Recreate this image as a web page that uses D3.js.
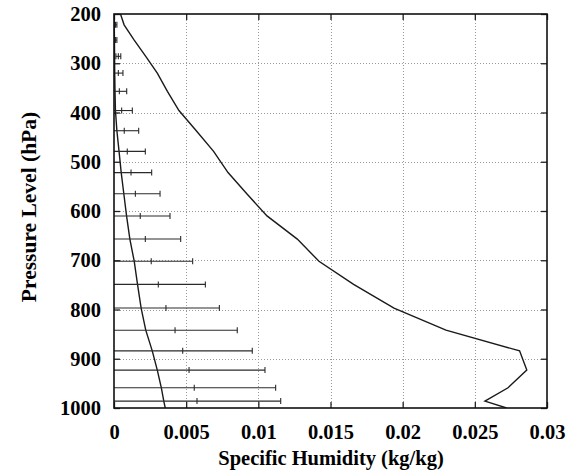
<!DOCTYPE html>
<html>
<head>
<meta charset="utf-8">
<script src="https://cdn.jsdelivr.net/npm/d3@7"></script>
<style>
  html, body { margin: 0; padding: 0; background: #fff; }
  svg { display: block; }
  text { font-family: "Liberation Serif", "Times New Roman", serif; font-weight: bold; fill: #000; }
</style>
</head>
<body>
<svg id="chart" width="576" height="474"></svg>
<script>
// Model pressure levels (hPa) where the profiles are sampled
const levels = [200, 222, 253, 286, 320, 357, 396, 437, 479, 522, 565, 610, 657, 702, 749, 797, 842, 884, 923, 959, 986, 1000];

// Specific humidity profiles (kg/kg)
const moistProfile = [0.00045, 0.0007, 0.0014, 0.0022, 0.003, 0.0037, 0.0045, 0.0057, 0.0069, 0.0079, 0.0092, 0.0106, 0.0127, 0.0142, 0.0166, 0.0194, 0.023, 0.0281, 0.0286, 0.0273, 0.0257, 0.0272];
const dryProfile = [0.00001, 0.00002, 0.00003, 0.00004, 0.00005, 0.00007, 0.0001, 0.0002, 0.00035, 0.0005, 0.00068, 0.00087, 0.0011, 0.0014, 0.00163, 0.00188, 0.0022, 0.00265, 0.003, 0.00328, 0.00345, 0.00355];

// Mean and standard deviation at each level (error bars)
const barLevels = [222, 253, 286, 320, 357, 396, 437, 479, 522, 565, 610, 657, 702, 749, 797, 842, 884, 923, 959, 986];
const barMean = [0.0001, 0.0001, 0.0003, 0.0003, 0.00037, 0.00053, 0.00071, 0.00092, 0.00118, 0.00148, 0.00182, 0.00217, 0.00258, 0.00307, 0.0036, 0.00423, 0.00476, 0.0052, 0.00556, 0.00575];
const barSd = [0.0001, 0.0001, 0.00017, 0.00032, 0.00051, 0.00074, 0.001, 0.00125, 0.00143, 0.00171, 0.00206, 0.00245, 0.00287, 0.00326, 0.0037, 0.00431, 0.00482, 0.00526, 0.00564, 0.0058];

// Axis ticks
const xTicks = [0, 0.005, 0.01, 0.015, 0.02, 0.025, 0.03];
const yTicks = [200, 300, 400, 500, 600, 700, 800, 900, 1000];

const svg = d3.select("#chart");
const plot = { left: 114, right: 547, top: 14, bottom: 408 };

const x = d3.scaleLinear().domain([0, 0.03]).range([plot.left, plot.right]);
const y = d3.scaleLinear().domain([200, 1000]).range([plot.top, plot.bottom]);

svg.append("defs").append("clipPath").attr("id", "plotClip")
  .append("rect")
  .attr("x", plot.left).attr("y", plot.top)
  .attr("width", plot.right - plot.left).attr("height", plot.bottom - plot.top);

// Dotted grid
const grid = svg.append("g").attr("stroke", "#9a9a9a").attr("stroke-width", 1).attr("stroke-dasharray", "1,2");
grid.selectAll("line.gx").data(xTicks.slice(1, -1)).join("line")
  .attr("x1", d => Math.round(x(d)) + 0.5).attr("x2", d => Math.round(x(d)) + 0.5)
  .attr("y1", plot.top).attr("y2", plot.bottom);
grid.selectAll("line.gy").data(yTicks.slice(1, -1)).join("line")
  .attr("y1", d => Math.round(y(d)) + 0.5).attr("y2", d => Math.round(y(d)) + 0.5)
  .attr("x1", plot.left).attr("x2", plot.right);

// Axes with inward ticks, mirrored on top and right
const fmtX = d => d === 0 ? "0" : String(+d.toFixed(3));
const axisBottom = d3.axisBottom(x).tickValues(xTicks).tickSize(-6).tickPadding(16).tickFormat(fmtX);
const axisTop = d3.axisTop(x).tickValues(xTicks).tickSize(-6).tickFormat("");
const axisLeft = d3.axisLeft(y).tickValues(yTicks).tickSize(-6).tickPadding(13).tickFormat(d3.format("d"));
const axisRight = d3.axisRight(y).tickValues(yTicks).tickSize(-6).tickFormat("");

function styleAxis(g) {
  g.select(".domain").remove();
  g.selectAll(".tick line").attr("stroke", "#222").attr("stroke-width", 1.3);
  g.selectAll(".tick text").attr("font-size", 20.5).attr("fill", "#000")
    .attr("font-family", "Liberation Serif, serif").attr("font-weight", "bold");
}

svg.append("g").attr("transform", `translate(0,${plot.bottom})`).call(axisBottom).call(styleAxis);
svg.append("g").attr("transform", `translate(0,${plot.top})`).call(axisTop).call(styleAxis);
svg.append("g").attr("transform", `translate(${plot.left},0)`).call(axisLeft).call(styleAxis);
svg.append("g").attr("transform", `translate(${plot.right},0)`).call(axisRight).call(styleAxis);

// Data layer
const layer = svg.append("g").attr("clip-path", "url(#plotClip)");

const line = d3.line().x(d => x(d[1])).y(d => y(d[0]));
layer.append("path")
  .datum(levels.map((p, i) => [p, moistProfile[i]]))
  .attr("d", line).attr("fill", "none").attr("stroke", "#1a1a1a").attr("stroke-width", 1.4);
layer.append("path")
  .datum(levels.map((p, i) => [p, dryProfile[i]]))
  .attr("d", line).attr("fill", "none").attr("stroke", "#1a1a1a").attr("stroke-width", 1.4);

// Error bars: mean +/- one standard deviation
const bars = layer.append("g").attr("stroke", "#2a2a2a").attr("stroke-width", 1.1)
  .selectAll("g").data(barLevels.map((p, i) => ({ p, m: barMean[i], s: barSd[i] }))).join("g");
bars.append("line")
  .attr("x1", d => x(d.m - d.s)).attr("x2", d => x(d.m + d.s))
  .attr("y1", d => y(d.p)).attr("y2", d => y(d.p));
bars.append("line")
  .attr("x1", d => x(d.m - d.s)).attr("x2", d => x(d.m - d.s))
  .attr("y1", d => y(d.p) - 3).attr("y2", d => y(d.p) + 3);
bars.append("line")
  .attr("x1", d => x(d.m + d.s)).attr("x2", d => x(d.m + d.s))
  .attr("y1", d => y(d.p) - 3).attr("y2", d => y(d.p) + 3);
bars.append("line")
  .attr("x1", d => x(d.m)).attr("x2", d => x(d.m))
  .attr("y1", d => y(d.p) - 3).attr("y2", d => y(d.p) + 3);

// Frame
svg.append("rect")
  .attr("x", plot.left).attr("y", plot.top)
  .attr("width", plot.right - plot.left).attr("height", plot.bottom - plot.top)
  .attr("fill", "none").attr("stroke", "#111").attr("stroke-width", 1.6);

// Axis titles
svg.append("text")
  .attr("x", 331).attr("y", 465)
  .attr("text-anchor", "middle").attr("font-size", 20.5)
  .text("Specific Humidity (kg/kg)");
svg.append("text")
  .attr("transform", "translate(36,207) rotate(-90)")
  .attr("text-anchor", "middle").attr("font-size", 21.5)
  .text("Pressure Level (hPa)");
</script>
</body>
</html>
